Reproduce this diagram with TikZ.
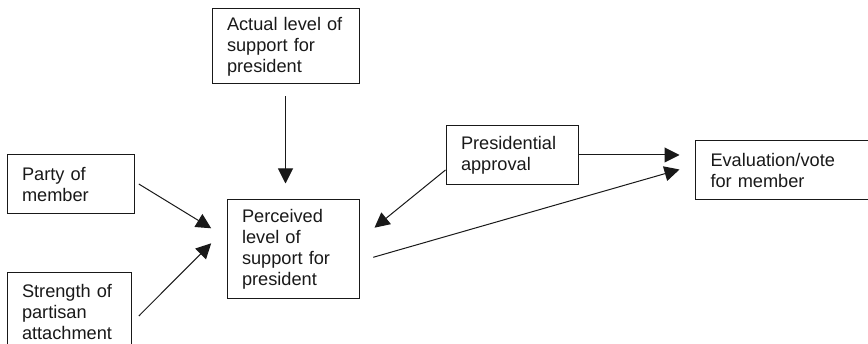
\documentclass[tikz,border=0pt]{standalone}
\usepackage{fontspec}
\setmainfont{Liberation Sans}
\usetikzlibrary{arrows.meta,calc}
\begin{document}
\begin{tikzpicture}[x=1pt,y=-1pt,
  box/.style={draw=black!90,line width=1pt,rectangle,align=left,inner xsep=15pt,inner ysep=0pt,
    font=\fontsize{18.2pt}{21pt}\selectfont,text=black!90},
  arr/.style={draw=black!90,line width=1pt,-{Triangle[length=15pt,width=15pt]}}]
\useasboundingbox (0,0) rectangle (868,344);
\clip (0,0) rectangle (868,344);
\node[box,text width=117pt,minimum height=75pt] (actual) at (285.5,46.5) {Actual level of\\support for\\president};
\node[box,text width=97pt,minimum height=59pt] (party) at (70.5,184.5) {Party of\\member};
\node[box,text width=94pt,minimum height=78pt] (strength) at (69,312) {Strength of\\partisan\\attachment};
\node[box,text width=102pt,minimum height=99pt] (perceived) at (293,249.5) {Perceived\\level of\\support for\\president};
\node[box,text width=102pt,minimum height=59pt] (approval) at (512,155.5) {Presidential\\approval};
\node[box,text width=160pt,minimum height=59pt] (eval) at (790.5,170.5) {Evaluation/vote\\for member};
\draw[arr] ($(actual.south)+(0,12)$) -- ($(perceived.north)+(-7.5,-16)$);
\draw[arr] ($(party.east)+(4.3,-0.5)$) -- ($(perceived.west)+(-15.3,-21.2)$);
\draw[arr] ($(strength.east)+(7.3,4)$) -- ($(perceived.west)+(-15.3,-6.2)$);
\draw[arr] ($(approval.west)+(0,14.5)$) -- ($(perceived.east)+(15,-21.8)$);
\draw[arr] ($(approval.east)+(0,-0.5)$) -- ($(eval.west)+(-15.5,-15.5)$);
\draw[arr] ($(perceived.east)+(13.7,7.8)$) -- ($(eval.west)+(-15.5,-1)$);
\end{tikzpicture}
\end{document}
